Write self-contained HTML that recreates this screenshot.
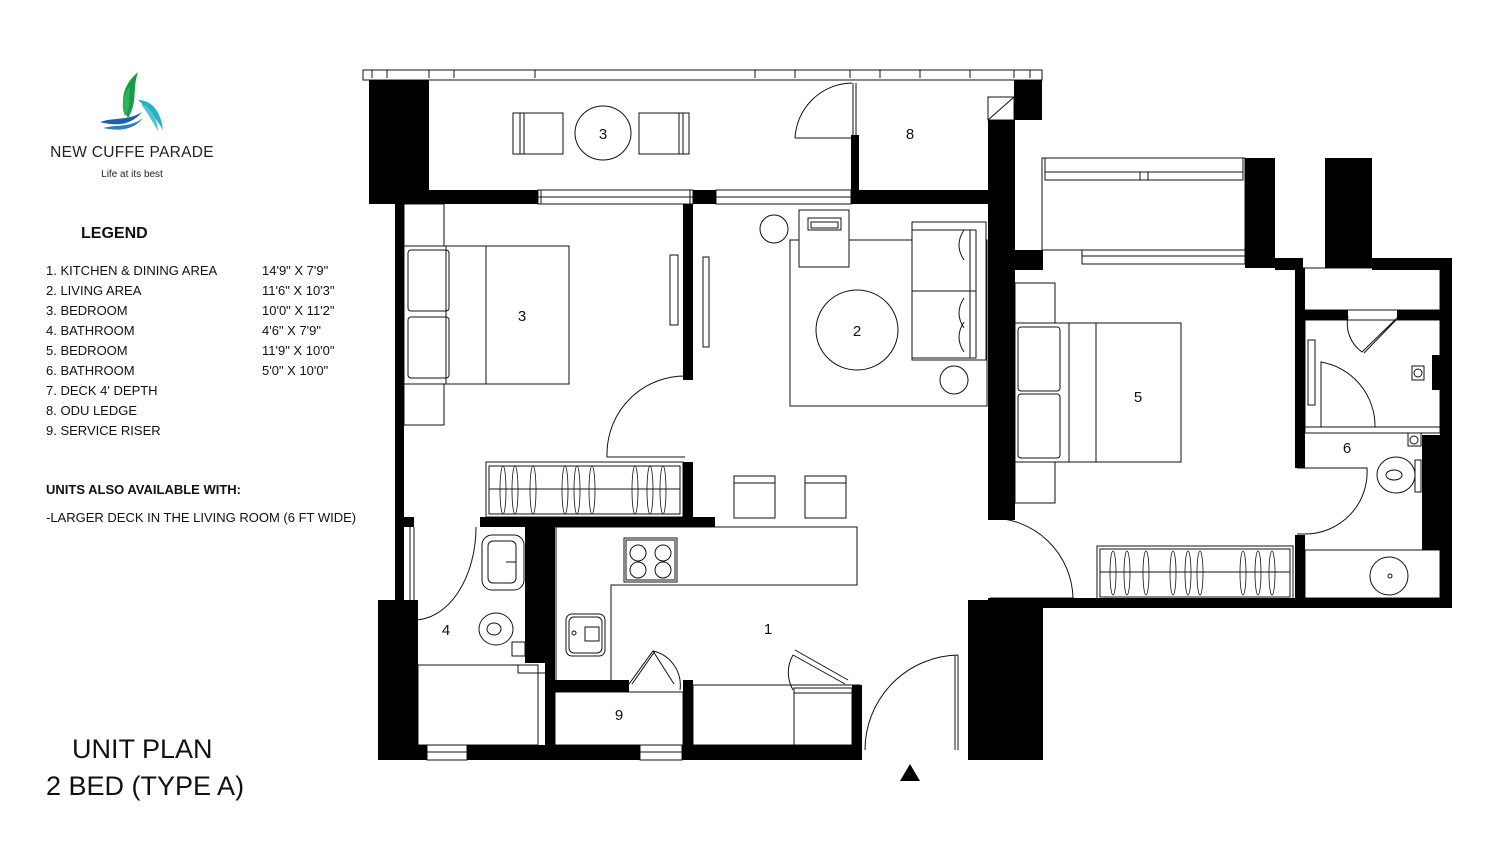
<!DOCTYPE html>
<html><head><meta charset="utf-8"><style>
html,body{margin:0;padding:0;background:#fff;}
svg{display:block;}
text{font-family:"Liberation Sans",sans-serif;}
</style></head><body>
<svg width="1500" height="854" viewBox="0 0 1500 854" xmlns="http://www.w3.org/2000/svg">
<rect width="1500" height="854" fill="#fff"/>
<!-- logo -->
<path d="M128 118 C118 100,124 84,138 72 C132 90,138 102,128 118Z" fill="#1a9a48"/>
<path d="M125 116 C120 104,124 94,130 86 C128 98,132 106,125 116Z" fill="#2bb357"/>
<path d="M100 122 C114 117,128 121,142 112 C131 126,114 126,100 122Z" fill="#1d5fa8"/>
<path d="M103 128 C117 124,130 128,143 118 C133 131,117 131,103 128Z" fill="#2a7fc0"/>
<path d="M138 100 C152 100,161 112,163 130 C156 118,149 110,138 100Z" fill="#2ab0c4"/>
<path d="M141 104 C151 107,157 117,158 131 C152 121,147 112,141 104Z" fill="#47c6d4"/>
<text x="132" y="157" font-size="15.5" text-anchor="middle" fill="#222" letter-spacing="0.3">NEW CUFFE PARADE</text>
<text x="132" y="177" font-size="10" text-anchor="middle" fill="#222">Life at its best</text>
<!-- legend -->
<g font-size="13" fill="#111">
<text x="81" y="238" font-size="16" font-weight="bold">LEGEND</text>
<text x="46" y="275">1. KITCHEN &amp; DINING AREA</text><text x="262" y="275">14'9" X 7'9"</text>
<text x="46" y="295">2. LIVING AREA</text><text x="262" y="295">11'6" X 10'3"</text>
<text x="46" y="315">3. BEDROOM</text><text x="262" y="315">10'0" X 11'2"</text>
<text x="46" y="335">4. BATHROOM</text><text x="262" y="335">4'6" X 7'9"</text>
<text x="46" y="355">5. BEDROOM</text><text x="262" y="355">11'9" X 10'0"</text>
<text x="46" y="375">6. BATHROOM</text><text x="262" y="375">5'0" X 10'0"</text>
<text x="46" y="395">7. DECK 4' DEPTH</text>
<text x="46" y="415">8. ODU LEDGE</text>
<text x="46" y="435">9. SERVICE RISER</text>
<text x="46" y="494" font-weight="bold">UNITS ALSO AVAILABLE WITH:</text>
<text x="46" y="522">-LARGER DECK IN THE LIVING ROOM (6 FT WIDE)</text>
</g>
<text x="72" y="758" font-size="27" fill="#111">UNIT PLAN</text>
<text x="46" y="795" font-size="27" fill="#111">2 BED (TYPE A)</text>

<g fill="none" stroke="#111" stroke-width="1">
<!-- parapet -->
<rect x="363" y="70" width="679" height="10"/>
<path d="M372 70v8M387 70v8M429 70v8M454 70v8M535 70v8M755 70v8M795 70v8M850 70v8M880 70v8M920 70v8M970 70v8M1014 70v8M1030 70v8"/>
<!-- balcony furniture -->
<rect x="513" y="113" width="50" height="41"/><path d="M520 113v41M524 113v41"/>
<rect x="639" y="113" width="50" height="41"/><path d="M679 113v41M683 113v41"/>
<ellipse cx="603" cy="133" rx="28" ry="27"/>
<path d="M795 138 A58 58 0 0 1 852 83 M795 138h58 M853 83v55 M856 83v55"/>
<rect x="988" y="97" width="26" height="23"/><path d="M988 120 L1014 97"/>
<!-- windows top wall -->
<rect x="538" y="190" width="155" height="14"/><path d="M538 197h155M541 190v14M690 190v14"/>
<rect x="716" y="190" width="135" height="14"/><path d="M716 197h135"/>
<!-- bedroom 3 -->
<rect x="404" y="204" width="40" height="221"/>
<rect x="404" y="246" width="165" height="138" fill="#fff"/>
<path d="M446 246v138M486 246v138"/>
<rect x="408" y="250" width="41" height="61" rx="3"/><rect x="408" y="317" width="41" height="61" rx="3"/>
<rect x="670" y="255" width="8" height="70"/><rect x="703" y="257" width="6" height="90"/>
<path d="M607 453 A78 78 0 0 1 688 376 M607 453v4h78"/>
<rect x="486" y="462" width="197" height="55"/><rect x="489" y="466" width="191" height="48"/><path d="M489 489h191"/>
<g stroke-width="0.8"><ellipse cx="503" cy="490" rx="3" ry="24"/><ellipse cx="515" cy="490" rx="3" ry="24"/><ellipse cx="533" cy="490" rx="3" ry="24"/><ellipse cx="565" cy="490" rx="3" ry="24"/><ellipse cx="577" cy="490" rx="3" ry="24"/><ellipse cx="592" cy="490" rx="3" ry="24"/><ellipse cx="635" cy="490" rx="3" ry="24"/><ellipse cx="650" cy="490" rx="3" ry="24"/><ellipse cx="663" cy="490" rx="3" ry="24"/></g>
<!-- living -->
<circle cx="774" cy="229" r="14"/>
<rect x="790" y="240" width="197" height="166"/>
<rect x="799" y="210" width="50" height="57" fill="#fff"/><rect x="808" y="218" width="33" height="12"/><rect x="811" y="222" width="27" height="6"/>
<ellipse cx="857" cy="330" rx="41" ry="40"/>
<rect x="912" y="222" width="74" height="138" fill="#fff"/><rect x="912" y="230" width="64" height="128"/><path d="M912 291h64M970 230v128"/>
<path d="M964 230q-10 15 0 30M964 298q-10 15 0 30M964 322q-10 15 0 30"/>
<circle cx="954" cy="380" r="14"/>
<!-- stools -->
<rect x="734" y="476" width="41" height="42"/><path d="M734 483h41"/>
<rect x="805" y="476" width="41" height="42"/><path d="M805 483h41"/>
<!-- kitchen -->
<path d="M556 527 H857 V585 H611 V681 H556 Z"/>
<rect x="624" y="538" width="53" height="44"/><rect x="626" y="540" width="49" height="40"/>
<circle cx="638" cy="553" r="8"/><circle cx="663" cy="553" r="8"/><circle cx="638" cy="570" r="8"/><circle cx="663" cy="570" r="8"/>
<rect x="566" y="614" width="39" height="42" rx="6"/><rect x="569" y="617" width="33" height="36" rx="5"/><rect x="585" y="627" width="14" height="14"/><circle cx="574" cy="633" r="2"/>
<path d="M629 684 L653 651 L674 684 M632 684 L655 651 M653 651 A35 35 0 0 1 680 690"/>
<path d="M793 655 L845 684 M795 650 L848 680 M793 655 A35 35 0 0 0 793 690"/>
<rect x="693" y="685" width="167" height="60"/><rect x="794" y="688" width="58" height="57"/><path d="M794 693h58"/>
<rect x="555" y="692" width="128" height="53"/>
<!-- entrance door -->
<path d="M865 750 A95 95 0 0 1 958 655 M958 655v95M955 655v95"/>
<!-- bathroom 4 -->
<path d="M414 620 A62 93 0 0 0 476 527 M414 527v93 M410 527v93"/>
<rect x="482" y="535" width="42" height="55" rx="10"/><rect x="488" y="541" width="28" height="42" rx="5"/><path d="M506 562h10"/>
<ellipse cx="496" cy="629" rx="17" ry="16"/><ellipse cx="494" cy="629" rx="7" ry="6"/>
<rect x="512" y="642" width="13" height="14"/>
<path d="M418 665h100v8h27"/>
<rect x="418" y="665" width="120" height="80"/>
<rect x="427" y="745" width="40" height="15"/><path d="M427 752h40"/>
<rect x="640" y="745" width="42" height="15"/><path d="M640 752h42"/>
<!-- right deck -->
<rect x="1042" y="158" width="203" height="92"/><rect x="1045" y="158" width="198" height="22"/><path d="M1045 172h198M1148 172v8M1140 172v8"/>
<rect x="1082" y="250" width="163" height="14"/><path d="M1082 256h163"/>
<rect x="1303" y="268" width="137" height="42"/>
<!-- bedroom 5 -->
<rect x="1015" y="283" width="40" height="220"/>
<rect x="1015" y="323" width="166" height="139" fill="#fff"/><path d="M1069 323v139M1096 323v139"/>
<rect x="1018" y="327" width="42" height="64" rx="3"/><rect x="1018" y="394" width="42" height="64" rx="3"/>
<path d="M990 518 A82 82 0 0 1 1073 598 M990 598h84"/>
<rect x="1097" y="546" width="196" height="53"/><rect x="1100" y="549" width="190" height="48"/><path d="M1100 572h190"/>
<g stroke-width="0.8"><ellipse cx="1113" cy="573" rx="3" ry="22"/><ellipse cx="1127" cy="573" rx="3" ry="22"/><ellipse cx="1146" cy="573" rx="3" ry="22"/><ellipse cx="1173" cy="573" rx="3" ry="22"/><ellipse cx="1188" cy="573" rx="3" ry="22"/><ellipse cx="1200" cy="573" rx="3" ry="22"/><ellipse cx="1243" cy="573" rx="3" ry="22"/><ellipse cx="1258" cy="573" rx="3" ry="22"/><ellipse cx="1272" cy="573" rx="3" ry="22"/></g>
<!-- bathroom 6 -->
<rect x="1305" y="320" width="135" height="113"/><path d="M1305 427h135"/>
<path d="M1348 316 A35 35 0 0 0 1362 352 L1397 318 M1364 353 L1396 320"/>
<path d="M1321 427 V362 A65 65 0 0 1 1375 427"/>
<rect x="1308" y="340" width="7" height="65"/><rect x="1412" y="366" width="12" height="14"/><circle cx="1418" cy="373" r="4"/>
<rect x="1408" y="433" width="13" height="13"/><circle cx="1414" cy="440" r="4"/>
<ellipse cx="1396" cy="475" rx="19" ry="18"/><ellipse cx="1394" cy="475" rx="8" ry="5"/><rect x="1415" y="460" width="6" height="32"/>
<path d="M1297 468 H1367 A62 62 0 0 1 1305 534 M1297 534h8"/>
<rect x="1305" y="550" width="135" height="48"/><circle cx="1389" cy="576" r="19"/><circle cx="1390" cy="576" r="2"/>
</g>

<!-- black walls -->
<g fill="#000">
<rect x="369" y="80" width="60" height="124"/>
<rect x="369" y="190" width="169" height="14"/>
<rect x="693" y="190" width="23" height="14"/>
<rect x="851" y="190" width="149" height="14"/>
<rect x="851" y="135" width="8" height="69"/>
<rect x="1014" y="80" width="28" height="40"/>
<rect x="988" y="120" width="27" height="400"/>
<rect x="1015" y="250" width="28" height="20"/>
<rect x="395" y="204" width="9" height="396"/>
<rect x="683" y="204" width="10" height="176"/>
<rect x="683" y="462" width="10" height="63"/>
<rect x="404" y="517" width="10" height="10"/>
<rect x="480" y="517" width="235" height="10"/>
<rect x="525" y="527" width="30" height="136"/>
<rect x="545" y="663" width="10" height="97"/>
<rect x="378" y="600" width="40" height="160"/>
<rect x="378" y="745" width="49" height="15"/>
<rect x="467" y="745" width="173" height="15"/>
<rect x="682" y="745" width="180" height="15"/>
<rect x="555" y="680" width="74" height="12"/>
<rect x="683" y="680" width="10" height="80"/>
<rect x="852" y="685" width="10" height="75"/>
<rect x="968" y="600" width="20" height="160"/>
<rect x="988" y="606" width="55" height="154"/>
<rect x="1245" y="158" width="30" height="110"/>
<rect x="1275" y="258" width="28" height="12"/>
<rect x="1295" y="268" width="10" height="200"/>
<rect x="1295" y="535" width="10" height="65"/>
<rect x="1325" y="158" width="47" height="110"/>
<rect x="1372" y="258" width="80" height="12"/>
<rect x="1440" y="258" width="12" height="350"/>
<rect x="1422" y="435" width="30" height="115"/>
<rect x="1305" y="310" width="43" height="10"/><rect x="1397" y="310" width="43" height="10"/>
<rect x="988" y="598" width="464" height="10"/>
<rect x="1432" y="355" width="8" height="35"/>
<path d="M900 781 L910 764 L920 781Z"/>
</g>

<g font-size="15" fill="#111" text-anchor="middle">
<text x="603" y="139">3</text><text x="910" y="139">8</text>
<text x="522" y="321">3</text><text x="857" y="336">2</text>
<text x="1138" y="402">5</text><text x="1347" y="453">6</text>
<text x="446" y="635">4</text><text x="768" y="634">1</text><text x="619" y="720">9</text>
</g>
</svg>
</body></html>
